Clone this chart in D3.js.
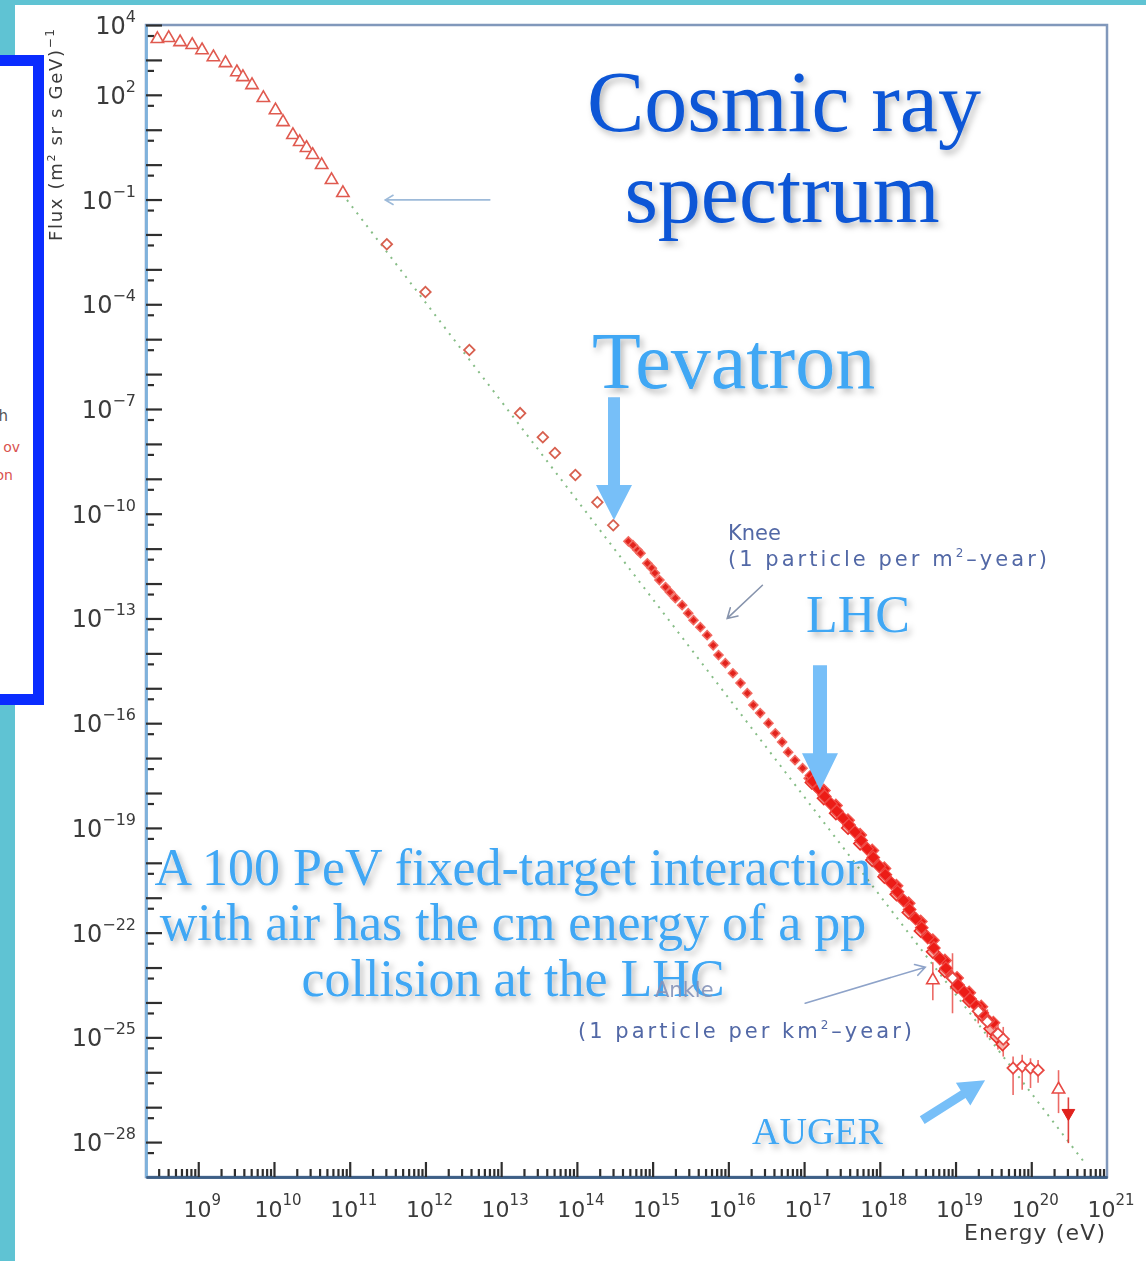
<!DOCTYPE html>
<html><head><meta charset="utf-8">
<script src="https://cdn.jsdelivr.net/npm/d3@7"></script>
<style>
html,body{margin:0;padding:0;background:#5fc3d3;}
svg{display:block;}
</style></head>
<body>
<svg id="chart" width="1146" height="1261"></svg>
<script>
// ================= DATA (log10 values) =================
// Direct measurements at low energy (open triangles): log10 E [eV], log10 flux
const triLogE = [8.46, 8.61, 8.76, 8.92, 9.05, 9.20, 9.36, 9.51, 9.59, 9.71, 9.86, 10.02, 10.12, 10.25, 10.34, 10.43, 10.51, 10.63, 10.76, 10.91];
const triLogF = [3.60, 3.63, 3.51, 3.43, 3.28, 3.08, 2.91, 2.65, 2.51, 2.28, 1.91, 1.56, 1.22, 0.85, 0.65, 0.48, 0.28, -0.01, -0.44, -0.81];

// Open diamonds (balloon / satellite data)
const dmdLogE = [11.49, 12.00, 12.58, 13.25, 13.55, 13.71, 13.98, 14.27, 14.48];
const dmdLogF = [-2.28, -3.65, -5.31, -7.12, -7.81, -8.26, -8.89, -9.67, -10.33];

// Knee region (small filled points)
const kneeLogE = [14.68, 14.74, 14.80, 14.84, 14.93, 14.99, 15.03, 15.09, 15.17, 15.23, 15.30, 15.39, 15.47, 15.54, 15.63, 15.72, 15.80, 15.87, 15.96, 16.06, 16.16, 16.25, 16.33, 16.42, 16.53, 16.62, 16.71, 16.79, 16.88, 16.98, 17.06, 17.15, 17.24];
const kneeLogF = [-10.79, -10.90, -11.04, -11.13, -11.42, -11.56, -11.70, -11.90, -12.10, -12.25, -12.42, -12.62, -12.85, -13.05, -13.25, -13.48, -13.77, -14.05, -14.28, -14.57, -14.85, -15.14, -15.48, -15.71, -16.00, -16.29, -16.54, -16.83, -17.06, -17.29, -17.58, -17.83, -18.06];

// Ankle region, filled points
const ankleLogE = [17.10, 17.18, 17.26, 17.34, 17.42, 17.50, 17.58, 17.66, 17.74, 17.82, 17.90, 17.98, 18.06, 18.14, 18.22, 18.30, 18.38, 18.46, 18.54, 18.62, 18.70, 18.78, 18.86, 18.94, 19.02, 19.10, 19.18, 19.26, 19.34, 19.42];
const ankleLogF = [-17.66, -17.88, -18.10, -18.31, -18.52, -18.72, -18.92, -19.12, -19.36, -19.60, -19.85, -20.10, -20.34, -20.58, -20.83, -21.08, -21.34, -21.60, -21.86, -22.14, -22.44, -22.74, -23.02, -23.28, -23.50, -23.70, -23.90, -24.10, -24.30, -24.52];

// Ankle region, second filled data set
const ankle2LogE = [17.06, 17.22, 17.38, 17.54, 17.70, 17.86, 18.02, 18.18, 18.34, 18.50, 18.66, 18.82, 18.98, 19.14, 19.30, 19.46];
const ankle2LogF = [-17.50, -17.93, -18.36, -18.78, -19.20, -19.65, -20.16, -20.66, -21.16, -21.68, -22.22, -22.80, -23.30, -23.72, -24.12, -24.58];

// Ankle region, open diamonds (other experiments)
const ankleOpenLogE = [17.14, 17.30, 17.46, 17.62, 17.78, 17.94, 18.10, 18.26, 18.42, 18.58, 18.74, 18.90, 19.06, 19.22, 19.38, 19.50, 19.58, 19.66];
const ankleOpenLogF = [-17.70, -18.15, -18.58, -19.00, -19.45, -19.92, -20.40, -20.90, -21.42, -21.95, -22.55, -23.10, -23.55, -23.95, -24.35, -24.75, -24.98, -25.20];

// Highest-energy open diamonds with error bars
const errLogE  = [18.96, 19.30, 19.42, 19.56, 19.63, 19.76, 19.88, 19.99, 20.09];
const errLogF  = [-23.30, -24.25, -24.55, -24.90, -25.05, -25.88, -25.83, -25.88, -25.94];
const errLogLo = [-24.31, -24.60, -25.00, -25.35, -25.55, -26.65, -26.50, -26.45, -26.30];
const errLogHi = [-22.59, -23.95, -24.20, -24.55, -24.70, -25.55, -25.50, -25.60, -25.65];

// Open triangles with error bars
const hiTriLogE  = [18.70, 20.36];
const hiTriLogF  = [-23.36, -26.49];
const hiTriLogLo = [-23.94, -27.17];
const hiTriLogHi = [-22.85, -25.94];

// Filled inverted triangle with error bar
const limLogE = [20.49];
const limLogF = [-27.17];
const limLogLo = [-28.03];
const limLogHi = [-26.72];

// Dotted reference power law (end points)
const refLineLogE = [10.90, 20.70];
const refLineLogF = [-0.83, -28.58];

// Tick labels
const yLabelExps = [4, 2, -1, -4, -7, -10, -13, -16, -19, -22, -25, -28];
const xLabelExps = [9, 10, 11, 12, 13, 14, 15, 16, 17, 18, 19, 20, 21];

// Annotation arrows (log10 E, log10 flux): [from, to]
const tevatronArrow = [[14.49, -6.66], [14.49, -10.18]];
const lhcArrow      = [[17.21, -14.34], [17.21, -17.92]];
const augerArrow    = [[18.56, -27.37], [19.39, -26.23]];
const kneeArrow     = [[16.45, -12.05], [15.985, -13.00]];
const ankleArrow    = [[17.015, -24.02], [18.60, -22.99]];
const leftArrow     = [[12.85, -1.01], [11.47, -1.01]];

// ================= DRAWING =================
const W = 1146, H = 1261;
const svg = d3.select("#chart");

const x = d3.scaleLog().domain([Math.pow(10, 8.31), 1e21]).range([146, 1107]);
const y = d3.scaleLog().domain([1e-29, 1e4]).range([1177, 25]);
const P = (le, lf) => [x(Math.pow(10, le)), y(Math.pow(10, lf))];

const defs = svg.append("defs");
const flt = defs.append("filter").attr("id", "shadow")
  .attr("x", "-10%").attr("y", "-30%").attr("width", "130%").attr("height", "170%");
flt.append("feDropShadow").attr("dx", 3).attr("dy", 4).attr("stdDeviation", 3)
  .attr("flood-color", "#000").attr("flood-opacity", 0.28);
const soft = defs.append("filter").attr("id", "soft");
soft.append("feGaussianBlur").attr("stdDeviation", 0.5);

// backgrounds
svg.append("rect").attr("width", W).attr("height", H).attr("fill", "#5fc3d3");
svg.append("rect").attr("x", 15).attr("y", 5).attr("width", W - 15).attr("height", H - 5).attr("fill", "#ffffff");

// blue box on the left
svg.append("rect").attr("x", -20).attr("y", 60.5).attr("width", 58.5).attr("height", 639)
  .attr("fill", "#ffffff").attr("stroke", "#0a2cff").attr("stroke-width", 11);
svg.append("text").attr("x", 8).attr("y", 421).attr("text-anchor", "end")
  .attr("font-family", "DejaVu Sans").attr("font-size", 15).attr("fill", "#555").text("h");
svg.append("text").attr("x", 20).attr("y", 452).attr("text-anchor", "end")
  .attr("font-family", "DejaVu Sans").attr("font-size", 14).attr("fill", "#d9534f").text("ov");
svg.append("text").attr("x", 13).attr("y", 480).attr("text-anchor", "end")
  .attr("font-family", "DejaVu Sans").attr("font-size", 14).attr("fill", "#d9534f").text("on");

const [xL, xR] = x.range();
const [yB, yT] = y.range();

// plot frame
svg.append("rect").attr("x", xL).attr("y", yT).attr("width", xR - xL).attr("height", yB - yT)
  .attr("fill", "none").attr("stroke", "#8198bb").attr("stroke-width", 2.5);

const chart = svg.append("g").attr("filter", "url(#soft)");

// axes
const yMajor = d3.range(-28, 5).map(k => Math.pow(10, k));
const yMinor = d3.range(-29, 4).map(k => 5 * Math.pow(10, k));
const xMajor = d3.range(9, 21).map(k => Math.pow(10, k));
const xMinor = [];
d3.range(8, 21).forEach(k => d3.range(2, 10).forEach(m => {
  const v = m * Math.pow(10, k);
  if (v > x.domain()[0] && v < x.domain()[1]) xMinor.push(v);
}));

function styleAxis(g, domainColor) {
  g.select(".domain").attr("stroke", domainColor).attr("stroke-width", 2.5);
  g.selectAll(".tick line").attr("stroke", "#2f2f2f").attr("stroke-width", 2.2);
}
const gyMin = chart.append("g").attr("transform", `translate(${xL},0)`)
  .call(d3.axisLeft(y).tickValues(yMinor).tickSize(-8).tickSizeOuter(0).tickFormat(""));
styleAxis(gyMin, "#7fb2dc");
const gy = chart.append("g").attr("transform", `translate(${xL},0)`)
  .call(d3.axisLeft(y).tickValues(yMajor).tickSize(-16).tickSizeOuter(0).tickFormat(""));
styleAxis(gy, "#7fb2dc");
const gxMin = chart.append("g").attr("transform", `translate(0,${yB})`)
  .call(d3.axisBottom(x).tickValues(xMinor).tickSize(-8).tickSizeOuter(0).tickFormat(""));
styleAxis(gxMin, "#3e5f86");
const gx = chart.append("g").attr("transform", `translate(0,${yB})`)
  .call(d3.axisBottom(x).tickValues(xMajor).tickSize(-15).tickSizeOuter(0).tickFormat(""));
styleAxis(gx, "#3e5f86");

// tick labels
const sup = e => (e < 0 ? "\u2212" + (-e) : String(e));
yLabelExps.forEach(e => {
  const t = chart.append("text").attr("x", 136).attr("y", y(Math.pow(10, e)) + 9)
    .attr("text-anchor", "end").attr("font-family", "DejaVu Sans").attr("fill", "#3a3a3a");
  t.append("tspan").attr("font-size", 24).text("10");
  t.append("tspan").attr("font-size", 16).attr("dy", -12).text(sup(e));
});
xLabelExps.forEach(e => {
  const t = chart.append("text").attr("x", x(Math.pow(10, e)) + 4).attr("y", 1217)
    .attr("text-anchor", "middle").attr("font-family", "DejaVu Sans").attr("fill", "#3a3a3a");
  t.append("tspan").attr("font-size", 22).text("10");
  t.append("tspan").attr("font-size", 15).attr("dy", -12).text(sup(e));
});
chart.append("text").attr("x", 1105).attr("y", 1240).attr("text-anchor", "end")
  .attr("font-family", "DejaVu Sans").attr("font-size", 22).attr("fill", "#3a3a3a")
  .attr("textLength", 141).attr("lengthAdjust", "spacing").text("Energy (eV)");
const yt = chart.append("text").attr("transform", "translate(62,241) rotate(-90)")
  .attr("font-family", "DejaVu Sans").attr("font-size", 18).attr("fill", "#3a3a3a")
  .attr("textLength", 212).attr("lengthAdjust", "spacing");
yt.append("tspan").text("Flux (m");
yt.append("tspan").attr("font-size", 11).attr("dy", -7).text("2");
yt.append("tspan").attr("dy", 7).text(" sr s GeV)");
yt.append("tspan").attr("font-size", 12).attr("dy", -8).text("\u22121");

// reference power-law dotted line
chart.append("path")
  .attr("d", d3.line()(refLineLogE.map((e, i) => P(e, refLineLogF[i]))))
  .attr("fill", "none").attr("stroke", "#86bd86").attr("stroke-width", 2)
  .attr("stroke-dasharray", "2,6");

// symbols
const triSym = d3.symbol().type(d3.symbolTriangle).size(66)();
const triDownSym = d3.symbol().type(d3.symbolTriangle).size(70)();
const sqSym = s => d3.symbol().type(d3.symbolSquare).size(s)();

function errBars(E, Lo, Hi, color) {
  chart.append("g").selectAll("line").data(E).join("line")
    .attr("x1", (e) => x(Math.pow(10, e))).attr("x2", (e) => x(Math.pow(10, e)))
    .attr("y1", (e, i) => y(Math.pow(10, Lo[i]))).attr("y2", (e, i) => y(Math.pow(10, Hi[i])))
    .attr("stroke", color).attr("stroke-width", 1.6);
}
function markers(E, F, sym, rot, fill, stroke, sw, dx) {
  chart.append("g").selectAll("path").data(E).join("path")
    .attr("d", sym)
    .attr("transform", (e, i) => { const [px, py] = P(e, F[i]); return `translate(${px + (dx || 0)},${py}) rotate(${rot})`; })
    .attr("fill", fill).attr("stroke", stroke).attr("stroke-width", sw);
}

// low energy triangles
markers(triLogE, triLogF, triSym, 0, "#fff", "#e05a50", 1.6);
// open diamonds
markers(dmdLogE, dmdLogF, sqSym(56), 45, "#fff", "#d8604f", 1.8);
// knee filled points
markers(kneeLogE, kneeLogF, sqSym(40), 45, "#e2231c", "#f26b62", 1.6);

// error bars (drawn under markers)
errBars(errLogE, errLogLo, errLogHi, "#ec6a66");
errBars(hiTriLogE, hiTriLogLo, hiTriLogHi, "#ec6a66");
errBars(limLogE, limLogLo, limLogHi, "#e0403c");

// ankle region
markers(ankleOpenLogE, ankleOpenLogF, sqSym(80), 45, "#f7b0aa", "#e8302a", 1.6, -3);
markers(ankle2LogE, ankle2LogF, sqSym(80), 45, "#ea1d18", "#f25a52", 1.4, 3);
markers(ankleLogE, ankleLogF, sqSym(80), 45, "#ec1a18", "#f04a44", 1.2, 1);

// highest energy open diamonds
markers(errLogE, errLogF, sqSym(64), 45, "#fff", "#e84a44", 1.8);
// open triangles with bars
markers(hiTriLogE, hiTriLogF, triSym, 0, "#fff", "#e84a44", 1.6);
// filled inverted triangle
markers(limLogE, limLogF, triDownSym, 180, "#e0201c", "#e0201c", 1);

// ---------- annotations ----------
function thinArrow(a, b, color, head) {
  const [ax, ay] = P(a[0], a[1]), [bx, by] = P(b[0], b[1]);
  const ang = Math.atan2(by - ay, bx - ax);
  const h1 = [bx + head * Math.cos(ang + Math.PI * 0.83), by + head * Math.sin(ang + Math.PI * 0.83)];
  const h2 = [bx + head * Math.cos(ang - Math.PI * 0.83), by + head * Math.sin(ang - Math.PI * 0.83)];
  svg.append("path")
    .attr("d", `M${ax},${ay}L${bx},${by}M${h1[0]},${h1[1]}L${bx},${by}L${h2[0]},${h2[1]}`)
    .attr("fill", "none").attr("stroke", color).attr("stroke-width", 1.6).attr("stroke-linecap", "round");
}
function thickArrow(a, b, sw, hl, hw) {
  const [ax, ay] = P(a[0], a[1]), [bx, by] = P(b[0], b[1]);
  const L = Math.hypot(bx - ax, by - ay), ux = (bx - ax) / L, uy = (by - ay) / L;
  const nx = -uy, ny = ux, cx = bx - ux * hl, cy = by - uy * hl;
  const pts = [
    [ax + nx * sw / 2, ay + ny * sw / 2], [cx + nx * sw / 2, cy + ny * sw / 2],
    [cx + nx * hw / 2, cy + ny * hw / 2], [bx, by],
    [cx - nx * hw / 2, cy - ny * hw / 2], [cx - nx * sw / 2, cy - ny * sw / 2],
    [ax - nx * sw / 2, ay - ny * sw / 2]];
  svg.append("path").attr("d", "M" + pts.map(p => p.join(",")).join("L") + "Z").attr("fill", "#77bff8");
}

thinArrow(leftArrow[0], leftArrow[1], "#9dbad9", 9);
thinArrow(kneeArrow[0], kneeArrow[1], "#8794ad", 11);
thinArrow(ankleArrow[0], ankleArrow[1], "#8ea3c9", 11);
thickArrow(tevatronArrow[0], tevatronArrow[1], 12, 35, 36);
thickArrow(lhcArrow[0], lhcArrow[1], 14, 37, 36);
thickArrow(augerArrow[0], augerArrow[1], 9, 26, 27);

const serif = "Liberation Serif, DejaVu Serif, serif";
function bigText(t, px, py, size, color, anchor) {
  svg.append("text").attr("x", px).attr("y", py).attr("font-family", serif).attr("font-size", size)
    .attr("fill", color).attr("text-anchor", anchor || "start").attr("filter", "url(#shadow)").text(t);
}
bigText("Cosmic ray", 784, 131, 86, "#0b57d6", "middle");
bigText("spectrum", 782, 222, 86, "#0b57d6", "middle");
bigText("Tevatron", 592, 388, 80, "#3fa7f4");
bigText("LHC", 806, 632, 52, "#3fa7f4");
bigText("A 100 PeV fixed-target interaction", 513, 885, 52, "#3fa7f4", "middle");
bigText("with air has the cm energy of a pp", 513, 940, 52, "#3fa7f4", "middle");
bigText("collision at the LHC", 513, 996, 52, "#3fa7f4", "middle");
bigText("AUGER", 752, 1144, 38, "#3fa7f4");

function smallText(parts, px, py, len, color, op) {
  const t = svg.append("text").attr("x", px).attr("y", py).attr("font-family", "DejaVu Sans")
    .attr("font-size", 21).attr("fill", color).attr("opacity", op || 1);
  if (len) t.attr("textLength", len).attr("lengthAdjust", "spacing");
  parts.forEach(p => {
    const s = t.append("tspan").text(p.t);
    if (p.sup) s.attr("font-size", 12).attr("dy", -9);
    if (p.down) s.attr("dy", 9);
  });
}
smallText([{t: "Knee"}], 728, 540, 0, "#5268a6");
smallText([{t: "(1 particle per m"}, {t: "2", sup: true}, {t: "\u2013year)", down: true}], 728, 566, 319, "#5268a6");
smallText([{t: "Ankle"}], 655, 997, 0, "#8593b8", 0.9);
smallText([{t: "(1 particle per km"}, {t: "2", sup: true}, {t: "\u2013year)", down: true}], 578, 1038, 334, "#5268a6");
</script>
</body></html>
